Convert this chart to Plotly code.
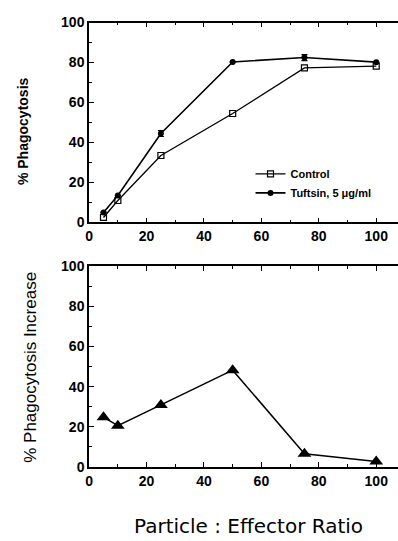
import plotly.graph_objects as go

ratio = [5, 10, 25, 50, 75, 100]
control = [2.5, 11, 33.5, 54.5, 77.3, 78.2]
tuftsin = [5, 13.5, 44.5, 80.3, 82.5, 80.2]
tuftsin_err = [0, 0, 1.5, 0, 1.5, 0]
increase = [24.8, 20.6, 30.9, 48.2, 6.6, 2.8]

xticks = [0, 20, 40, 60, 80, 100]
yticks = [0, 20, 40, 60, 80, 100]

W, H = 398, 541
BLACK = "#000000"
tick_font = dict(family="Liberation Sans, Arial", size=14, color=BLACK, weight="bold")

fig = go.Figure()

fig.add_trace(go.Scatter(
    x=ratio, y=control, mode="lines+markers", name="Control",
    line=dict(color=BLACK, width=1.3),
    marker=dict(symbol="square-open", size=6, color=BLACK, line=dict(width=1.2)),
    xaxis="x", yaxis="y"))
fig.add_trace(go.Scatter(
    x=ratio, y=tuftsin, mode="lines+markers", name="Tuftsin, 5 μg/ml",
    line=dict(color=BLACK, width=1.6),
    marker=dict(symbol="circle", size=6, color=BLACK),
    error_y=dict(type="data", array=tuftsin_err, visible=True, color=BLACK, thickness=1.2, width=3),
    xaxis="x", yaxis="y"))
fig.add_trace(go.Scatter(
    x=ratio, y=increase, mode="lines+markers", name="Increase", showlegend=False,
    line=dict(color=BLACK, width=1.5),
    marker=dict(symbol="triangle-up", size=12, color=BLACK),
    xaxis="x2", yaxis="y2"))

x0 = 86 / W
top_dom = [1 - 221 / H, 1 - 15 / H]
bot_dom = [1 - 473 / H, 1 - 266 / H]
xr = [0, (W - 86) / 2.9]

common_x = dict(range=xr, domain=[x0, 1], tickvals=xticks, ticks="inside", ticklen=5,
                tickwidth=1.3, tickcolor=BLACK, showline=True, linecolor=BLACK, linewidth=1.8,
                mirror="ticks", showgrid=False, zeroline=False, tickfont=tick_font,
                minor=dict(dtick=10, ticks="inside", ticklen=3, tickcolor=BLACK, showgrid=False))
common_y = dict(range=[0, 100], tickvals=yticks, ticks="inside", ticklen=5,
                tickwidth=1.3, tickcolor=BLACK, showline=True, linecolor=BLACK, linewidth=1.8,
                showgrid=False, zeroline=False, tickfont=tick_font,
                minor=dict(dtick=10, ticks="inside", ticklen=3, tickcolor=BLACK, showgrid=False))

fig.update_layout(
    width=W, height=H, margin=dict(l=0, r=0, t=0, b=0),
    paper_bgcolor="white", plot_bgcolor="white",
    xaxis=dict(**common_x, anchor="y"),
    yaxis=dict(**common_y, domain=top_dom, anchor="x"),
    xaxis2=dict(**common_x, anchor="y2"),
    yaxis2=dict(**common_y, domain=bot_dom, anchor="x2"),
    legend=dict(x=249 / W, y=1 - 156 / H, xanchor="left", yanchor="top",
                bgcolor="rgba(0,0,0,0)", itemwidth=30, tracegroupgap=0,
                font=dict(family="Liberation Sans, Arial", size=11, color=BLACK, weight="bold")),
    annotations=[
        dict(text="% Phagocytosis", x=19 / W, y=1 - 127 / H, xref="paper", yref="paper",
             xanchor="center", yanchor="middle", textangle=-90, showarrow=False,
             font=dict(family="Liberation Sans, Arial", size=14, color=BLACK, weight="bold")),
        dict(text="% Phagocytosis Increase", x=26 / W, y=1 - 370 / H, xref="paper", yref="paper",
             xanchor="center", yanchor="middle", textangle=-90, showarrow=False,
             font=dict(family="Liberation Sans, Arial", size=17, color=BLACK)),
        dict(text="Particle : Effector Ratio", x=247 / W, y=1 - 534 / H, xref="paper", yref="paper",
             xanchor="center", yanchor="middle", showarrow=False,
             font=dict(family="DejaVu Sans", size=20, color=BLACK)),
    ],
)

fig.write_html("out.html")
